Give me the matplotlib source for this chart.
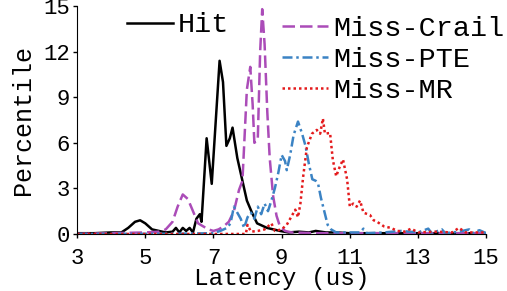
import matplotlib
matplotlib.use("Agg")
import matplotlib.pyplot as plt
import numpy as np

# latency (us) / percentile
hit_x = [3.0, 3.5, 4.0, 4.3, 4.5, 4.7, 4.85, 5.0, 5.2, 5.4, 5.6, 5.8, 5.9, 6.0, 6.1, 6.2, 6.3, 6.4,
         6.5, 6.6, 6.65, 6.8, 6.95, 7.18, 7.28, 7.38, 7.48, 7.56, 7.7, 7.8, 7.98, 8.13, 8.28, 8.57,
         8.95, 9.2, 9.5, 9.8, 10.0, 10.3, 10.6, 11.0, 12.0, 13.0, 14.0, 15.0]
hit_y = [0.05, 0.05, 0.1, 0.1, 0.4, 0.8, 0.9, 0.7, 0.3, 0.2, 0.1, 0.15, 0.4, 0.1, 0.4, 0.2, 0.4, 0.1,
         1.0, 1.3, 0.8, 6.3, 3.3, 11.4, 10.0, 5.8, 6.3, 7.0, 5.0, 4.0, 2.2, 1.4, 0.7, 0.4,
         0.2, 0.1, 0.15, 0.1, 0.2, 0.1, 0.1, 0.05, 0.05, 0.05, 0.05, 0.05]

crail_x = [3.0, 4.0, 5.0, 5.4, 5.6, 5.8, 5.95, 6.1, 6.25, 6.4, 6.55, 6.7, 6.85, 7.0, 7.15, 7.3,
           7.45, 7.6, 7.75, 7.85, 7.98, 8.08, 8.15, 8.2, 8.3, 8.37, 8.43, 8.5, 8.58, 8.65, 8.75,
           8.85, 8.95, 9.1, 9.3, 10.0, 12.0, 15.0]
crail_y = [0.0, 0.05, 0.1, 0.15, 0.3, 0.8, 1.8, 2.6, 2.3, 1.5, 0.7, 0.5, 0.3, 0.2, 0.3, 0.5,
           0.8, 1.5, 2.9, 3.5, 9.5, 11.0, 8.5, 6.0, 6.2, 12.0, 14.8, 12.5, 8.0, 5.0, 2.5,
           1.2, 0.5, 0.2, 0.1, 0.05, 0.05, 0.05]

pte_x = [3.0, 6.0, 7.0, 7.2, 7.4, 7.5, 7.6, 7.7, 7.8, 7.9, 8.0, 8.1, 8.2, 8.3, 8.4, 8.5, 8.6, 8.7,
         8.8, 8.9, 9.0, 9.1, 9.15, 9.25, 9.35, 9.48, 9.6, 9.7, 9.8, 9.9, 10.0, 10.07, 10.15, 10.25,
         10.35, 10.45, 10.6, 11.0, 11.3, 11.4, 11.5, 12.0, 12.5, 13.0, 13.3, 13.4, 13.7, 13.8,
         14.2, 14.5, 14.6, 14.8, 15.0]
pte_y = [0.0, 0.02, 0.05, 0.2, 0.4, 0.7, 1.8, 1.4, 1.0, 0.4, 1.1, 1.4, 1.0, 1.8, 1.3, 2.0, 1.5, 2.2,
         3.0, 4.0, 5.2, 4.8, 4.2, 5.2, 6.5, 7.4, 6.6, 5.8, 4.6, 3.6, 3.5, 3.3, 2.4, 1.5,
         0.6, 0.3, 0.1, 0.1, 0.1, 0.35, 0.05, 0.1, 0.2, 0.1, 0.35, 0.05, 0.3, 0.05,
         0.15, 0.3, 0.05, 0.25, 0.05]

mr_x = [3.0, 7.0, 7.95, 8.0, 8.1, 8.3, 8.5, 8.7, 8.8, 9.0, 9.15, 9.3, 9.4, 9.48, 9.55, 9.63, 9.74,
        9.89, 10.03, 10.13, 10.21, 10.27, 10.42, 10.5, 10.6, 10.7, 10.8, 10.92, 11.0, 11.1, 11.2,
        11.3, 11.4, 11.59, 11.7, 11.8, 12.0, 12.2, 12.4, 12.6, 12.8, 13.0, 13.5, 14.0, 14.2,
        14.4, 15.0]
mr_y = [0.0, 0.0, 0.0, 0.6, 0.15, 0.2, 0.3, 0.7, 0.2, 0.3, 0.6, 1.2, 1.6, 1.1, 2.0, 3.75, 5.7,
        6.6, 6.85, 6.6, 7.6, 6.6, 6.65, 4.9, 3.8, 4.4, 4.9, 3.6, 1.8, 2.0, 1.8,
        2.2, 1.4, 1.25, 0.9, 0.8, 0.5, 0.4, 0.2, 0.15, 0.35, 0.1, 0.15, 0.1, 0.4,
        0.1, 0.1]

plt.rcParams['font.family'] = ['Liberation Mono', 'DejaVu Sans Mono']

fig = plt.figure(figsize=(5.07, 2.91), dpi=100)
ax = fig.add_axes([0.152, 0.196, 0.807, 0.783])

h_hit, = ax.plot(hit_x, hit_y, color='black', lw=1.8, label='Hit')
h_crail, = ax.plot(crail_x, crail_y, color='#ab4cb8', lw=1.8, ls=(0, (5, 2)), label='Miss-Crail')
h_pte, = ax.plot(pte_x, pte_y, color='#3b83c4', lw=1.8, ls=(0, (4, 1.5, 1, 1.5)), label='Miss-PTE')
h_mr, = ax.plot(mr_x, mr_y, color='#e41a1c', lw=1.8, ls=(0, (1, 1.2)), label='Miss-MR')

ax.set_xlim(3, 15)
ax.set_ylim(0, 15)
ax.set_xticks([3, 5, 7, 9, 11, 13, 15])
ax.set_yticks([0, 3, 6, 9, 12, 15])
ax.tick_params(labelsize=16, length=3, width=1, direction='out')
ax.tick_params(axis='x', pad=7)
ax.tick_params(axis='y', pad=2)
ax.spines['top'].set_visible(False)
ax.spines['right'].set_visible(False)
ax.set_xlabel('Latency (us)', fontsize=17.6, labelpad=-1)
ax.set_ylabel('Percentile', fontsize=18, labelpad=6)

leg1 = ax.legend(handles=[h_hit], loc='upper left', bbox_to_anchor=(0.122, 0.972),
                 frameon=False, fontsize=20.5, handlelength=1.6, handletextpad=0.2,
                 borderaxespad=0, borderpad=0)
ax.add_artist(leg1)
ax.legend(handles=[h_crail, h_pte, h_mr], loc='upper left', bbox_to_anchor=(0.501, 0.957),
          frameon=False, fontsize=20.5, handlelength=1.6, handletextpad=0.2,
          labelspacing=0.17, borderaxespad=0, borderpad=0)

fig.savefig('out.png', dpi=100)
